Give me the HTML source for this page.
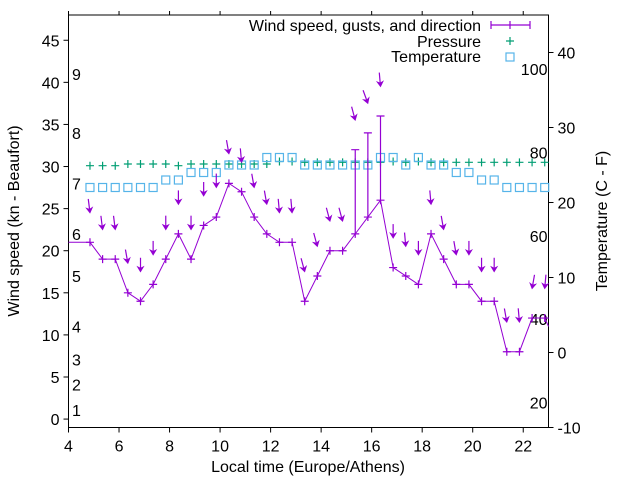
<!DOCTYPE html>
<html><head><meta charset="utf-8"><style>
body{margin:0;background:#fff}
svg{display:block;font-family:"Liberation Sans",sans-serif}
</style></head><body>
<svg id="chart" width="640" height="480" viewBox="0 0 640 480">
<g id="axes"></g><g id="series"></g>
</svg>
<script>
const times=[4.85,5.35,5.85,6.35,6.85,7.35,7.85,8.35,8.85,9.35,9.85,10.35,10.85,11.35,11.85,12.35,12.85,13.35,13.85,14.35,14.85,15.35,15.85,16.35,16.85,17.35,17.85,18.35,18.85,19.35,19.85,20.35,20.85,21.35,21.85,22.35,22.85];
const speed=[21,19,19,15,14,16,19,22,19,23,24,28,27,24,22,21,21,14,17,20,20,22,24,26,18,17,16,22,19,16,16,14,14,8,8,12,12];
const gust=[21,19,19,15,14,16,19,22,19,23,24,28,27,24,22,21,21,14,17,20,20,32,34,36,18,17,16,22,19,16,16,14,14,8,8,12,12];
const direction=[7,7,7,10,0,0,0,0,0,0,0,10,5,10,10,5,5,15,15,15,15,15,20,5,0,5,0,5,10,10,0,0,0,10,5,-10,-5];
const pressure=[30.1,30.1,30.1,30.3,30.3,30.3,30.3,30.1,30.3,30.3,30.3,30.3,30.3,30.3,30.3,30.6,30.6,30.5,30.5,30.5,30.5,30.5,30.5,30.5,30.6,30.5,30.6,30.5,30.5,30.5,30.5,30.5,30.5,30.5,30.5,30.5,30.5];
const temperature=[22,22,22,22,22,22,23,23,24,24,24,25,25,25,26,26,26,25,25,25,25,25,25,26,26,25,26,25,25,24,24,23,23,22,22,22,22];
const xTicks=[4,6,8,10,12,14,16,18,20,22];
const yTicks=[0,5,10,15,20,25,30,35,40,45];
const y2Ticks=[-10,0,10,20,30,40];
const beaufortLabels=[["1",1.1],["2",4.1],["3",7.1],["4",11],["5",17],["6",22],["7",28],["8",34],["9",41]];
const fahrenheitLabels=[100,80,60,40,20];

const L=68.5,R=548.5,T=15,B=427.5;
const X=v=>L+(v-4)/19*(R-L);
const Y=v=>B-(v+1)/49*(B-T);
const Y2=v=>B-(v+10)/55*(B-T);
const NS="http://www.w3.org/2000/svg";
const P="#9400d3",G="#009e73",C="#56b4e9";
const FS=16;
function mk(tag,attrs,parent,text){const e=document.createElementNS(NS,tag);for(const k in attrs)e.setAttribute(k,attrs[k]);if(text!==undefined)e.textContent=text;parent.appendChild(e);return e;}
const ax=document.getElementById('axes'),se=document.getElementById('series');

let e=mk('rect',{x:L,y:T,width:R-L,height:B-T,fill:'none',stroke:'#000','stroke-width':1},ax);

xTicks.forEach(t=>{const x=X(t);
 mk('line',{x1:x,y1:B,x2:x,y2:B+5,stroke:'#000'},ax);mk('line',{x1:x,y1:T,x2:x,y2:T-4,stroke:'#000'},ax);
 const tx=mk('text',{x:x,y:B+24,'font-size':FS,'text-anchor':'middle'},ax,String(t));
 });
yTicks.forEach(t=>{const y=Y(t);
 mk('line',{x1:L-5,y1:y,x2:L,y2:y,stroke:'#000'},ax);
 const tx=mk('text',{x:L-9,y:y+6,'font-size':FS,'text-anchor':'end'},ax,String(t));
 });
y2Ticks.forEach(t=>{const y=Y2(t);
 mk('line',{x1:R,y1:y,x2:R+5,y2:y,stroke:'#000'},ax);
 const tx=mk('text',{x:R+9,y:y+6,'font-size':FS},ax,String(t));
 });
beaufortLabels.forEach(b=>{const tx=mk('text',{x:72,y:Y(b[1])+6,'font-size':FS},ax,b[0]);
 });
fahrenheitLabels.forEach(f=>{const tx=mk('text',{x:R-1,y:Y2((f-32)*5/9)+6,'font-size':FS,'text-anchor':'end'},ax,String(f));
 });
e=mk('text',{x:308,y:472,'font-size':FS,'text-anchor':'middle'},ax,'Local time (Europe/Athens)');

e=mk('text',{x:0,y:0,'font-size':FS,'text-anchor':'middle',transform:'translate(19,221) rotate(-90)'},ax,'Wind speed (kn - Beaufort)');

e=mk('text',{x:0,y:0,'font-size':FS,'text-anchor':'middle',transform:'translate(607,221) rotate(-90)'},ax,'Temperature (C - F)');


pressure.forEach((p,i)=>{const x=X(times[i]),y=Y(p);
 const g=mk('path',{d:`M${x-4},${y}h8M${x},${y-4}v8`,stroke:G,'stroke-width':1.2,fill:'none'},se);
 });
temperature.forEach((t,i)=>{const x=X(times[i]),y=Y2(t);
 const r=mk('rect',{x:x-4,y:y-4,width:8,height:8,fill:'none',stroke:C,'stroke-width':1.2},se);
 });
let d=`M${L},${Y(speed[0])}`;speed.forEach((s,i)=>{d+=`L${X(times[i])},${Y(s)}`;});
d+=`L${R},${Y(speed[speed.length-1]-1)}`;
e=mk('path',{d:d,stroke:P,fill:'none','stroke-width':1},se);

speed.forEach((s,i)=>{const x=X(times[i]),y=Y(s),yg=Y(gust[i]);
 const g=mk('path',{d:`M${x},${y}V${yg}M${x-4},${y}h8M${x-4},${yg}h8M${x},${y-4}v8`,stroke:P,fill:'none','stroke-width':1.2},se);
 
 const a=direction[i]*Math.PI/180,hx=x,hy=Y(gust[i]+3.5);
 const ux=Math.sin(a),uy=Math.cos(a);
 const tx=hx-ux*14,ty=hy-uy*14,bx=hx-ux*5,by=hy-uy*5,nx=hx-ux*3.5,ny=hy-uy*3.5;
 const ar=mk('g',{},se);
 
 mk('line',{x1:tx,y1:ty,x2:nx,y2:ny,stroke:P,'stroke-width':1.2},ar);
 mk('path',{d:`M${hx},${hy}L${bx-uy*3},${by+ux*3}L${nx},${ny}L${bx+uy*3},${by-ux*3}Z`,fill:P,stroke:P,'stroke-width':0.8},ar);});

const lg=mk('g',{},ax);
[['Wind speed, gusts, and direction',25],['Pressure',41],['Temperature',56]].forEach(l=>{
 const t=mk('text',{x:481,y:l[1]+6,'font-size':FS,'text-anchor':'end'},lg,l[0]);
 });
mk('path',{d:`M491,25H530M491,21v8M530,21v8M510,21v8`,stroke:P,fill:'none','stroke-width':1.2},lg);
mk('path',{d:`M506,41h8M510,37v8`,stroke:G,fill:'none','stroke-width':1.2},lg);
mk('rect',{x:506,y:53,width:8,height:8,fill:'none',stroke:C,'stroke-width':1.2},lg);
</script>
</body></html>
